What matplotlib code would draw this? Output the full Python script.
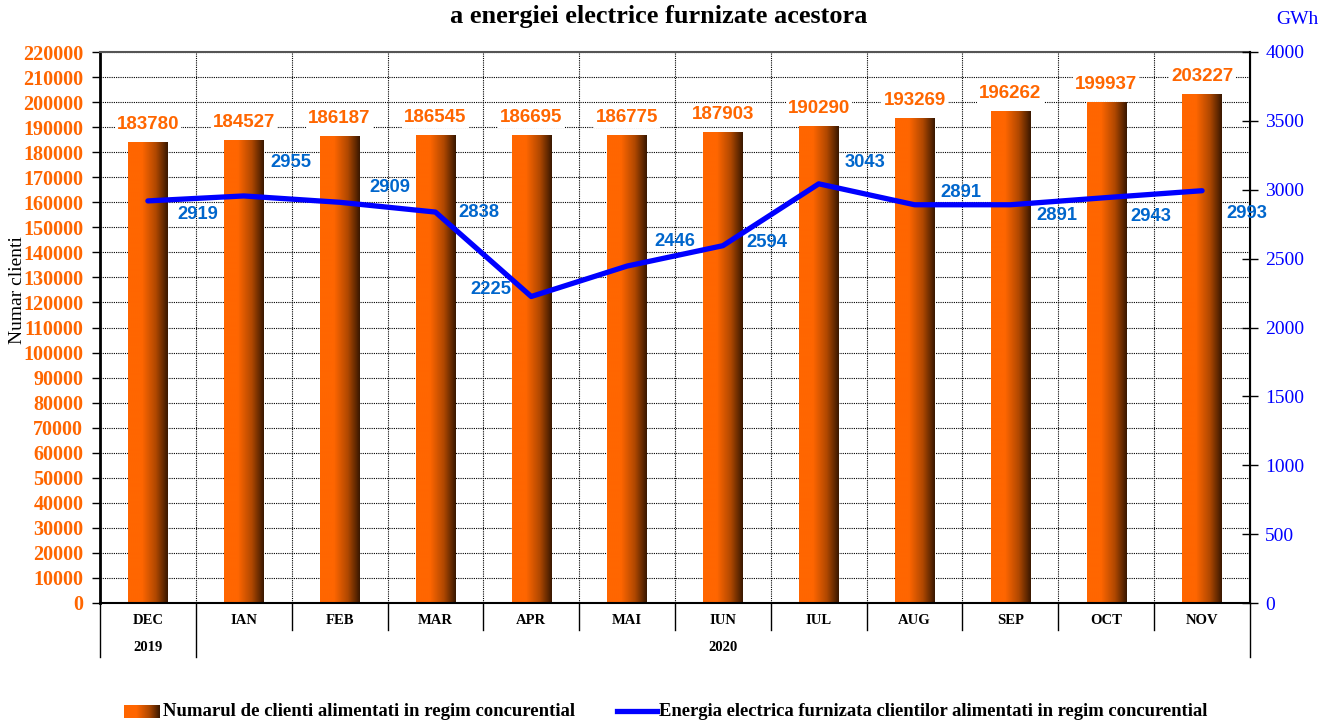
import numpy as np
import matplotlib.pyplot as plt
from matplotlib.colors import LinearSegmentedColormap
from matplotlib.lines import Line2D

months = ['DEC', 'IAN', 'FEB', 'MAR', 'APR', 'MAI', 'IUN', 'IUL', 'AUG', 'SEP', 'OCT', 'NOV']
years = ['2019', '2020']
clients = [183780, 184527, 186187, 186545, 186695, 186775, 187903, 190290, 193269, 196262, 199937, 203227]
energy = [2919, 2955, 2909, 2838, 2225, 2446, 2594, 3043, 2891, 2891, 2943, 2993]

title = 'a energiei electrice furnizate acestora'
bar_name = 'Numarul de clienti alimentati in regim concurential'
line_name = 'Energia electrica furnizata clientilor alimentati in regim concurential'

# label offsets (pixels) for the energy labels, as placed in the original
line_lbl_off = [(50, -14), (47, 33), (50, 15), (44, 0), (-40, 7), (48, 25),
                (44, 3), (46, 21), (46, 12), (46, -11), (45, -19), (45, -23)]

ORANGE = '#FF6600'
BLUE = '#0000FF'
LBLUE = '#0066CC'
SERIF = 'Liberation Serif'
SANS = 'Liberation Sans'

cmap = LinearSegmentedColormap.from_list('bar', [(0, '#FF6600'), (0.35, '#FF6600'),
                                                 (0.7, '#B04800'), (1, '#3A1800')])
grad = np.linspace(0, 1, 100).reshape(1, -1)

fig = plt.figure(figsize=(13.23, 7.2), dpi=100)
ax = fig.add_axes([100/1323, 1-603/720, 1150/1323, 551/720])
ax2 = ax.twinx()

x = np.arange(len(months))
w = 0.41
for xi, v in zip(x, clients):
    ax.imshow(grad, extent=[xi-w/2, xi+w/2, 0, v], aspect='auto', cmap=cmap, zorder=2)
    ax.annotate(str(v), (xi, v), xytext=(0, 18), textcoords='offset pixels',
                ha='center', va='center', color=ORANGE, fontsize=13.5, fontweight='bold',
                family=SANS, zorder=3,
                bbox=dict(fc='white', ec='none', pad=1.5))

ax.set_xlim(-0.5, len(months)-0.5)
ax.set_ylim(0, 220000)
ax.set_yticks(np.arange(0, 220001, 10000))
ax.yaxis.grid(True, ls=(0, (1, 1)), color='black', lw=0.8)
ax.vlines(x[:-1]+0.5, 0, 220000, colors='black', linestyles=(0, (1, 1)), lw=0.8, zorder=0.5)
ax.set_axisbelow(True)
ax.set_xticks([])
for lbl in ax.get_yticklabels():
    lbl.set_color(ORANGE)
    lbl.set_fontweight('bold')
    lbl.set_family(SERIF)
    lbl.set_fontsize(14.5)
ax.tick_params(axis='y', length=6, width=1, pad=6)
ax.spines['left'].set_linewidth(2)
ax.spines['bottom'].set_linewidth(1.5)
ax.spines['top'].set_color('#555555')
ax.spines['top'].set_linewidth(1.5)
for s in ax2.spines.values():
    s.set_visible(False)
ax2.spines['right'].set_visible(True)
ax2.spines['right'].set_linewidth(1.5)

ax2.plot(x, energy, color=BLUE, lw=3.8, solid_capstyle='round', zorder=4)
for xi, v, off in zip(x, energy, line_lbl_off):
    ax2.annotate(str(v), (xi, v), xytext=off, textcoords='offset pixels',
                 ha='center', va='center', color=LBLUE, fontsize=13.2,
                 fontweight='bold', family=SANS)
ax2.set_ylim(0, 4000)
ax2.set_yticks(np.arange(0, 4001, 500))
ax2.tick_params(axis='y', direction='inout', length=12, width=1, pad=5,
                labelcolor=BLUE, labelsize=14)
for lbl in ax2.get_yticklabels():
    lbl.set_family(SERIF)
ax2.set_xlim(-0.5, len(months)-0.5)

# two-level category axis
tr = ax.get_xaxis_transform()
for xi, m in zip(x, months):
    ax.text(xi, -0.032, m, transform=tr, ha='center', va='center',
            fontsize=10.5, fontweight='bold', family=SERIF)
ax.text(0, -0.081, years[0], transform=tr, ha='center', va='center',
        fontsize=10.5, fontweight='bold', family=SERIF)
ax.text((1 + len(months)-1)/2, -0.081, years[1], transform=tr, ha='center', va='center',
        fontsize=10.5, fontweight='bold', family=SERIF)
for b in np.arange(-0.5, len(months), 1.0):
    bottom = -0.098 if b in (-0.5, 0.5, len(months)-0.5) else -0.049
    ax.add_line(Line2D([b, b], [0, bottom], transform=tr, color='black', lw=1, clip_on=False))

fig.text(659/1323, 1-17/720, title, ha='center', va='center', fontsize=18.9,
         fontweight='bold', family=SERIF)
fig.text(1297/1323, 1-20/720, 'GWh', ha='center', va='center', fontsize=14,
         color=BLUE, family=SERIF)
fig.text(18/1323, 1-290/720, 'Numar clienti', ha='center', va='center', rotation=90,
         fontsize=14, family=SERIF)

# legend
lax = fig.add_axes([124/1323, 1-718/720, 36/1323, 13/720])
lax.imshow(grad, aspect='auto', cmap=cmap)
lax.axis('off')
fig.text(163/1323, 1-711/720, bar_name, ha='left', va='center', fontsize=13.5,
         fontweight='bold', family=SERIF)
fig.add_artist(Line2D([617/1323, 657/1323], [1-711/720]*2, transform=fig.transFigure,
                      color=BLUE, lw=3.8))
fig.text(659/1323, 1-711/720, line_name, ha='left', va='center', fontsize=13.4,
         fontweight='bold', family=SERIF)

fig.savefig('out.png', dpi=100)
